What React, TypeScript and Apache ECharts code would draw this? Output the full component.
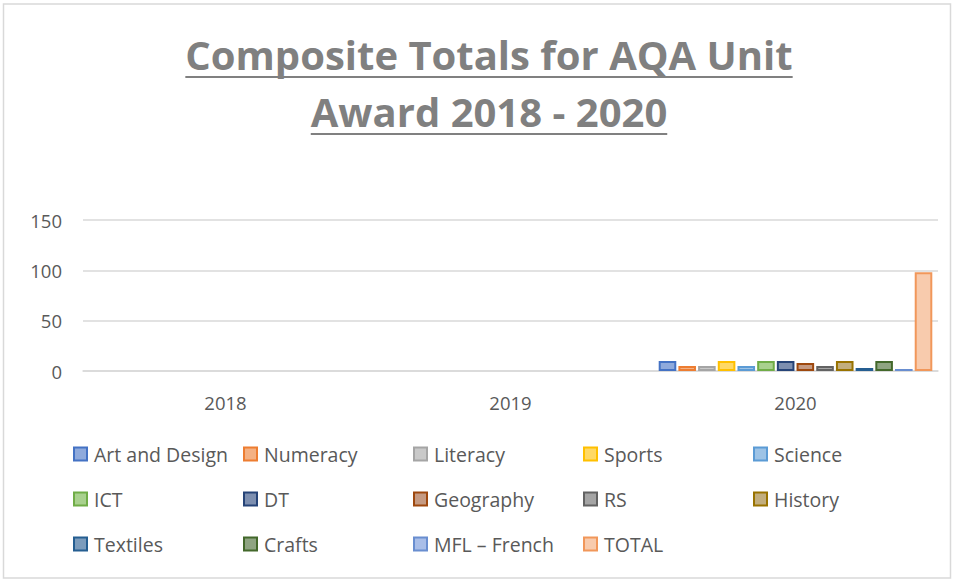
import React, { useEffect, useRef } from "react";
import * as echarts from "echarts";

const years = ["2018", "2019", "2020"];
const seriesNames = [
  "Art and Design", "Numeracy", "Literacy", "Sports", "Science",
  "ICT", "DT", "Geography", "RS", "History",
  "Textiles", "Crafts", "MFL – French", "TOTAL",
];
// 2018 and 2019 have no bars; values below are for 2020
const values2020 = [10, 5, 5, 10, 5, 10, 10, 8, 5, 10, 3, 10, 2, 98];
const borderColors = [
  "#4472C4", "#ED7D31", "#A5A5A5", "#FFC000", "#5B9BD5",
  "#70AD47", "#264478", "#9E480E", "#636363", "#997300",
  "#255E91", "#43682B", "#698ED0", "#F1975A",
];
const fillColors = [
  "#8FAADC", "#F4B183", "#C9C9C9", "#FFD966", "#9DC3E6",
  "#A9D18E", "#7D8FB0", "#C59A82", "#A5A5A5", "#C2AE7E",
  "#7C9CBC", "#8FA482", "#A9BEE8", "#F8CBAD",
];
const yTicks = { min: 0, max: 150, interval: 50 };
const titleLines = ["Composite Totals for AQA Unit", "Award 2018 - 2020"];
const legendColumns = [
  ["Art and Design", "ICT", "Textiles"],
  ["Numeracy", "DT", "Crafts"],
  ["Literacy", "Geography", "MFL – French"],
  ["Sports", "RS", "TOTAL"],
  ["Science", "History"],
];

const FONT = "'Open Sans', 'Noto Sans', sans-serif";
const TITLE_SIZE = 40;

export default function App() {
  const ref = useRef<HTMLDivElement>(null);
  useEffect(() => {
    if (!ref.current) return;
    const chart = echarts.init(ref.current, undefined, { renderer: "svg" });
    const series = seriesNames.map((name, i) => ({
      name,
      type: "bar",
      data: [null, null, values2020[i]],
      barGap: "12%",
      barCategoryGap: "4%",
      itemStyle: { color: fillColors[i], borderColor: borderColors[i], borderWidth: 2 },
    }));
    const titleFont = { fontFamily: FONT, fontWeight: "bold", fontSize: TITLE_SIZE };
    const w1 = echarts.format.getTextRect(titleLines[0], `bold ${TITLE_SIZE}px ${FONT}`).width;
    const w2 = echarts.format.getTextRect(titleLines[1], `bold ${TITLE_SIZE}px ${FONT}`).width;
    const cx = 489;
    chart.setOption({
      animation: false,
      backgroundColor: "#ffffff",
      legend: legendColumns.map((col, c) => ({
        data: col,
        orient: "vertical",
        left: 68 + c * 170,
        top: 439,
        icon: "rect",
        itemWidth: 13,
        itemHeight: 13,
        itemGap: 25,
        textStyle: { fontFamily: FONT, fontSize: 19.5, color: "#595959", padding: [0, 0, 0, 2] },
      })),
      grid: { left: 83, right: 17, top: 220, bottom: 211, containLabel: false },
      xAxis: {
        type: "category",
        data: years,
        axisLine: { lineStyle: { color: "#D9D9D9", width: 1.5 } },
        axisTick: { show: false },
        axisLabel: { fontFamily: FONT, fontSize: 18.5, color: "#595959", margin: 22 },
      },
      yAxis: {
        type: "value",
        min: yTicks.min,
        max: yTicks.max,
        interval: yTicks.interval,
        axisLine: { show: false },
        axisTick: { show: false },
        splitLine: { lineStyle: { color: "#D9D9D9", width: 1.5 } },
        axisLabel: { fontFamily: FONT, fontSize: 18.5, color: "#595959", margin: 21 },
      },
      graphic: [
        {
          type: "rect",
          shape: { x: 3.5, y: 4, width: 947, height: 574 },
          style: { fill: "none", stroke: "#D9D9D9", lineWidth: 1.5 },
          silent: true,
        },
        {
          type: "text",
          x: cx,
          y: 54,
          style: { text: titleLines[0], ...titleFont, fill: "#808080", textAlign: "center", textVerticalAlign: "middle" },
        },
        {
          type: "text",
          x: cx,
          y: 111,
          style: { text: titleLines[1], ...titleFont, fill: "#808080", textAlign: "center", textVerticalAlign: "middle" },
        },
        {
          type: "line",
          shape: { x1: cx - w1 / 2, y1: 77, x2: cx + w1 / 2, y2: 77 },
          style: { stroke: "#808080", lineWidth: 2 },
        },
        {
          type: "line",
          shape: { x1: cx - w2 / 2, y1: 134, x2: cx + w2 / 2, y2: 134 },
          style: { stroke: "#808080", lineWidth: 2 },
        },
      ],
      series,
    });
    return () => chart.dispose();
  }, []);
  return (
    <div
      ref={ref}
      style={{ position: "fixed", left: 0, top: 0, width: 955, height: 582 }}
    />
  );
}
